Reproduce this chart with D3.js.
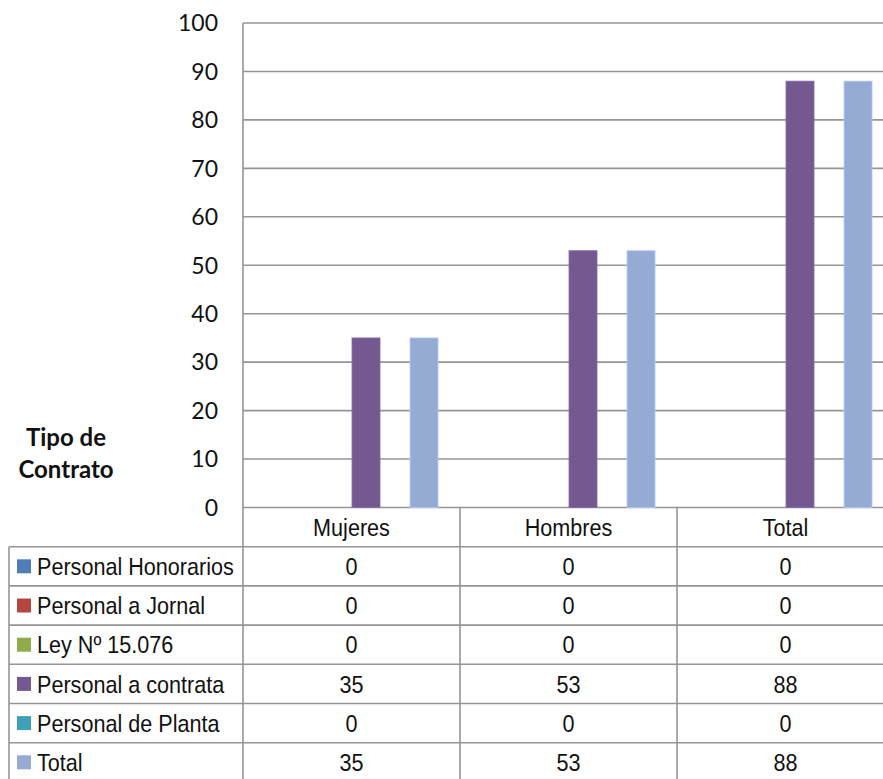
<!DOCTYPE html>
<html>
<head>
<meta charset="utf-8">
<script src="https://cdn.jsdelivr.net/npm/d3@7"></script>
<style>
  body { margin: 0; background: #fff; }
  svg { display: block; }
  .tick-label { font-family: Lato, "Open Sans", sans-serif; font-size: 23px; fill: #111; }
  .table-text { font-family: "Liberation Sans", Arial, sans-serif; font-size: 24px; fill: #111; }
  .title { font-family: Lato, "Open Sans", sans-serif; font-size: 24px; font-weight: bold; fill: #111; }
</style>
</head>
<body>
<div id="vis"></div>
<script>
//DATA
const categories = ["Mujeres", "Hombres", "Total"];
const seriesNames = ["Personal Honorarios", "Personal a Jornal", "Ley Nº 15.076", "Personal a contrata", "Personal de Planta", "Total"];
const seriesColors = ["#4F7DB5", "#B4463F", "#8FAB4C", "#735990", "#3FA1B8", "#95ABD3"];
const honorarios = [0, 0, 0];
const jornal = [0, 0, 0];
const ley15076 = [0, 0, 0];
const contrata = [35, 53, 88];
const planta = [0, 0, 0];
const total = [35, 53, 88];
const yTicks = [0, 10, 20, 30, 40, 50, 60, 70, 80, 90, 100];

const seriesValues = [honorarios, jornal, ley15076, contrata, planta, total];

const width = 883, height = 779;
const plotLeft = 243, plotRight = 894, plotTop = 23, plotBottom = 507.5;
const tableLeft = 9, rowH = 39.2;
const gridColor = "#959595";
const narrow = 0.9; // no narrow font installed, squeeze the table text

const svg = d3.select("#vis").append("svg")
  .attr("width", width)
  .attr("height", height);

// helper: place condensed text at (px, py)
function narrowText(sel, px) {
  sel.attr("x", d => px(d) / narrow)
    .attr("transform", `scale(${narrow},1)`);
}

//CREATE SCALES
const x = d3.scaleBand().domain(categories).range([plotLeft, plotRight]).padding(0);
const xInner = d3.scaleBand().domain(d3.range(seriesNames.length))
  .range([0, x.bandwidth()]).paddingInner(0).paddingOuter(0.74);
const y = d3.scaleLinear().domain([0, 100]).range([plotBottom, plotTop]);

//DRAW
//gridlines
svg.append("g").selectAll("line")
  .data(yTicks)
  .join("line")
  .attr("x1", plotLeft).attr("x2", plotRight)
  .attr("y1", d => y(d)).attr("y2", d => y(d))
  .attr("stroke", gridColor).attr("stroke-width", 1.6);

//tick labels
svg.append("g").selectAll("text")
  .data(yTicks)
  .join("text")
  .attr("class", "tick-label")
  .attr("x", 218)
  .attr("y", d => y(d))
  .attr("dy", "0.36em")
  .attr("text-anchor", "end")
  .text(d => d);

//actual bars
const groups = svg.append("g").selectAll("g")
  .data(categories)
  .join("g")
  .attr("transform", c => `translate(${x(c)},0)`);

groups.selectAll("rect")
  .data((c, ci) => seriesValues.map((vals, si) => ({ si: si, v: vals[ci] })))
  .join("rect")
  .attr("x", d => xInner(d.si) + 0.5)
  .attr("width", xInner.bandwidth() - 1)
  .attr("y", d => y(d.v))
  .attr("height", d => y(0) - y(d.v))
  .attr("fill", d => seriesColors[d.si])
  .attr("stroke", d => d3.color(seriesColors[d.si]).brighter(0.5))
  .attr("stroke-width", 0.8);

//axis line
svg.append("line")
  .attr("x1", plotLeft).attr("x2", plotLeft)
  .attr("y1", plotTop).attr("y2", height)
  .attr("stroke", gridColor).attr("stroke-width", 1.6);

//TABLE
const headerBottom = plotBottom + rowH;
// horizontal lines
const rowLines = d3.range(seriesNames.length).map(i => headerBottom + i * rowH);
svg.append("g").selectAll("line")
  .data(rowLines)
  .join("line")
  .attr("x1", tableLeft).attr("x2", plotRight)
  .attr("y1", d => d).attr("y2", d => d)
  .attr("stroke", gridColor).attr("stroke-width", 1.6);

// vertical lines
svg.append("line")
  .attr("x1", tableLeft).attr("x2", tableLeft)
  .attr("y1", headerBottom).attr("y2", height)
  .attr("stroke", gridColor).attr("stroke-width", 1.6);
svg.append("g").selectAll("line")
  .data(categories.slice(1))
  .join("line")
  .attr("x1", d => x(d)).attr("x2", d => x(d))
  .attr("y1", plotBottom).attr("y2", height)
  .attr("stroke", gridColor).attr("stroke-width", 1.6);

// header
svg.append("g").selectAll("text")
  .data(categories)
  .join("text")
  .attr("class", "table-text")
  .attr("y", plotBottom + rowH / 2)
  .attr("dy", "0.36em")
  .attr("text-anchor", "middle")
  .text(d => d)
  .call(narrowText, d => x(d) + x.bandwidth() / 2);

// rows
const rows = svg.append("g").selectAll("g")
  .data(seriesNames)
  .join("g")
  .attr("transform", (d, i) => `translate(0,${headerBottom + i * rowH})`);

rows.append("rect")
  .attr("x", 17).attr("y", rowH / 2 - 7)
  .attr("width", 14).attr("height", 14)
  .attr("fill", (d, i) => seriesColors[i]);

rows.append("text")
  .attr("class", "table-text")
  .attr("y", rowH / 2)
  .attr("dy", "0.36em")
  .text(d => d)
  .call(narrowText, () => 37);

rows.selectAll("text.val")
  .data((d, i) => seriesValues[i].map((v, ci) => ({ c: categories[ci], v: v })))
  .join("text")
  .attr("class", "table-text val")
  .attr("y", rowH / 2)
  .attr("dy", "0.36em")
  .attr("text-anchor", "middle")
  .text(d => d.v)
  .call(narrowText, d => x(d.c) + x.bandwidth() / 2);

//title on the left
svg.append("text")
  .attr("class", "title")
  .attr("text-anchor", "middle")
  .selectAll("tspan")
  .data(["Tipo de", "Contrato"])
  .join("tspan")
  .attr("x", 66)
  .attr("y", (d, i) => 446 + i * 32)
  .text(d => d);
</script>
</body>
</html>
